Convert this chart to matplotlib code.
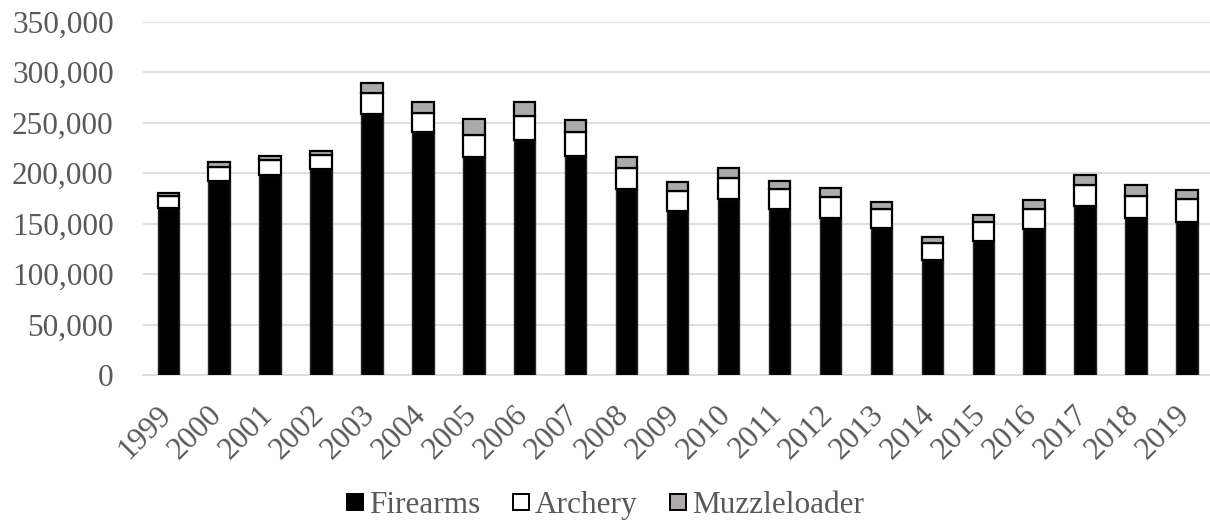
import matplotlib
matplotlib.use("Agg")
import matplotlib.pyplot as plt
import matplotlib.transforms as mtransforms
from matplotlib.ticker import FuncFormatter, MultipleLocator
from matplotlib.lines import Line2D
import numpy as np

years = [str(y) for y in range(1999, 2020)]
firearms = [165000, 192000, 198000, 204000, 258500, 240500, 215500, 232500,
            216500, 184000, 162500, 174500, 164500, 156000, 145500, 114000,
            133000, 145000, 167500, 156000, 152000]
archery = [12000, 14500, 14700, 14000, 20500, 19500, 22000, 24000,
           24000, 21500, 20000, 21000, 19500, 20500, 18500, 16500,
           19000, 19000, 20500, 21500, 22500]
muzzleloader = [3000, 5000, 4500, 3500, 10500, 10000, 16000, 13500,
                12000, 10000, 8500, 10000, 8000, 8500, 7500, 6000,
                7000, 9000, 10000, 11000, 9000]

plt.rcParams['font.family'] = ['Liberation Serif', 'DejaVu Serif']
text_color = '#595959'
muzzle_gray = '#AEAAAA'
fs = 22.5

fig = plt.figure(figsize=(12.1, 5.29), dpi=100)
ax = fig.add_axes([0.118, 0.291, 0.884, 0.668])

x = np.arange(len(years))
w = 0.42
f = np.array(firearms)
a = np.array(archery)
m = np.array(muzzleloader)

ax.bar(x, f, w, color='black', edgecolor='#262626', linewidth=1.0, zorder=3)
ax.bar(x, a, w, bottom=f, color='white', edgecolor='black', linewidth=1.6, zorder=3)
ax.bar(x, m, w, bottom=f + a, color=muzzle_gray, edgecolor='black', linewidth=1.6, zorder=3)

ax.set_xlim(-0.5, len(years) - 0.5)
ax.set_ylim(0, 350000)
ax.yaxis.set_major_locator(MultipleLocator(50000))
ax.yaxis.set_major_formatter(FuncFormatter(lambda v, p: f"{int(v):,}"))
ax.grid(axis='y', color='#D9D9D9', linewidth=1.2, zorder=0)
ax.set_axisbelow(True)

for s in ['top', 'right', 'left']:
    ax.spines[s].set_visible(False)
ax.spines['bottom'].set_color('#D9D9D9')
ax.spines['bottom'].set_linewidth(1.2)

ax.set_xticks(x)
ax.set_xticklabels(years, rotation=45, ha='right', rotation_mode='anchor')
ax.tick_params(axis='both', length=0, labelsize=fs, colors=text_color)
ax.tick_params(axis='x', pad=14)
ax.tick_params(axis='y', pad=21)

# nudge the slanted year labels so their ends sit under the bars
shift = mtransforms.ScaledTranslation(-0.12, -0.06, fig.dpi_scale_trans)
for lbl in ax.get_xticklabels():
    lbl.set_transform(lbl.get_transform() + shift)

def square(face):
    return Line2D([], [], linestyle='none', marker='s', markersize=11,
                  markerfacecolor=face, markeredgecolor='black',
                  markeredgewidth=1.4)

handles = [square('black'), square('white'), square(muzzle_gray)]
leg = fig.legend(handles, ['Firearms', 'Archery', 'Muzzleloader'],
                 loc='center', bbox_to_anchor=(0.5, 0.045), ncol=3,
                 frameon=False, fontsize=fs, handlelength=0.6,
                 handletextpad=0.15, columnspacing=1.0)
for t in leg.get_texts():
    t.set_color(text_color)

fig.savefig('out.png', dpi=100)
